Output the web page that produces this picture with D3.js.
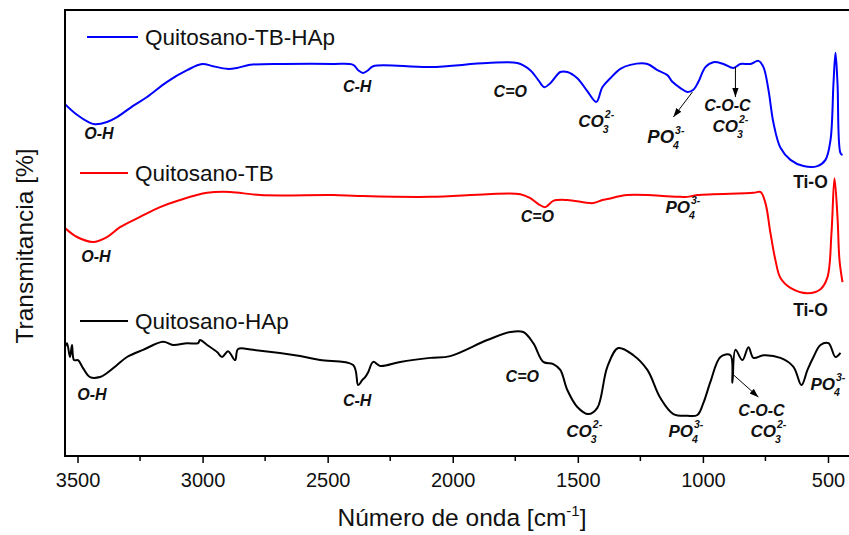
<!DOCTYPE html>
<meta charset="utf-8">
<style>
body { margin: 0; background: #fff; }
svg { display: block; font-family: "Liberation Sans", Arial, sans-serif; }
.lbl { font-weight: bold; font-style: italic; font-size: 16px; fill: #111; }
.leg text { font-size: 22.5px; fill: #111; }
.axis text { font-size: 20px; fill: #111; }
</style>
<svg width="849" height="535"></svg>
<script src="https://d3js.org/d3.v7.min.js"></script>
<script>

// FTIR spectra, [wavenumber cm-1, transmittance (arbitrary, offset)]
var tbHap = [[3550,78.9],[3502,76.5],[3450,74.7],[3430,74.4],[3382,74.9],[3342,76.0],[3278,78.5],[3222,80.5],
  [3142,83.9],[3062,86.5],[3002,87.9],[2958,87.4],[2902,86.8],[2862,87.0],[2810,87.7],[2678,87.9],[2478,87.9],
  [2398,87.7],[2378,86.5],[2358,85.9],[2338,86.5],[2318,87.4],[2090,87.2],[1862,88.1],[1742,88.1],[1690,86.5],
  [1658,84.3],[1634,82.7],[1610,83.6],[1570,86.1],[1542,86.1],[1502,84.7],[1462,81.8],[1426,79.4],[1402,82.7],
  [1370,84.7],[1330,86.8],[1290,87.7],[1222,87.9],[1182,86.5],[1142,85.4],[1122,83.9],[1090,82.5],[1062,81.6],
  [1038,82.1],[1018,83.9],[990,87.2],[958,88.3],[918,87.9],[878,87.0],[850,87.9],[810,87.9],[778,88.6],[758,87.2],
  [738,82.1],[718,74.7],[690,69.1],[650,66.4],[598,65.0],[542,65.0],[510,66.4],[490,70.8],[478,83.6],[470,90.4],
  [462,83.6],[450,67.9],[442,67.5]];

var tb = [[3550,51.1],[3502,49.1],[3438,48.0],[3382,49.1],[3330,51.3],[3250,53.6],[3170,55.8],[3090,57.4],
  [2982,59.0],[2890,59.2],[2770,58.5],[2478,58.5],[2378,58.3],[2090,58.1],[1862,58.7],[1730,58.7],[1690,57.8],
  [1658,56.5],[1630,55.8],[1598,57.2],[1542,57.4],[1438,56.7],[1402,57.4],[1382,57.6],[1302,58.5],[1090,58.1],
  [1062,58.1],[1022,58.5],[798,59.0],[770,59.2],[750,56.7],[730,50.0],[710,43.9],[690,39.9],[650,37.7],
  [582,36.5],[530,37.4],[502,40.1],[486,50.0],[474,62.3],[462,53.6],[454,43.9],[442,39.0]];

var hap = [[3550,24.4],[3542,25.3],[3530,22.2],[3522,24.9],[3514,21.5],[3498,21.5],[3478,19.7],[3450,17.7],
  [3410,17.7],[3382,18.6],[3342,20.4],[3302,22.2],[3238,23.8],[3158,25.6],[3118,24.9],[3062,25.3],[3018,25.3],
  [3010,26.0],[2982,24.9],[2942,23.3],[2922,22.2],[2898,23.5],[2870,21.5],[2858,24.0],[2798,23.8],[2610,22.4],
  [2530,21.5],[2398,20.4],[2378,15.9],[2362,17.0],[2350,17.7],[2338,18.8],[2318,21.1],[2290,20.2],[2210,21.1],
  [2090,22.0],[2010,22.4],[1862,26.0],[1770,27.8],[1718,27.8],[1678,25.3],[1638,21.1],[1598,20.6],[1570,19.3],
  [1542,14.8],[1502,11.0],[1458,9.4],[1422,10.8],[1382,20.0],[1338,24.2],[1278,22.6],[1222,19.3],[1170,13.0],
  [1118,9.4],[1062,9.0],[1022,9.2],[998,11.9],[970,16.6],[930,22.2],[890,22.6],[882,16.4],[870,23.8],[842,21.5],
  [818,24.4],[798,22.0],[758,22.6],[690,22.0],[638,20.0],[606,15.9],[582,19.3],[558,22.2],[530,24.9],[498,25.3],
  [470,22.2],[450,23.1]];

var seriesNames = ["Quitosano-TB-HAp", "Quitosano-TB", "Quitosano-HAp"];
var seriesColors = ["#0000ff", "#ff0000", "#000000"];
var majorTicks = [3500, 3000, 2500, 2000, 1500, 1000, 500];
var minorTicks = [3250, 2750, 2250, 1750, 1250, 750];

// band labels: [text, wavenumber, value, anchor, ion sup, ion sub, size]
var bandLabels = [
  ["O-H", 3414, 71.1, "middle"], ["C-H", 2382, 81.6, "middle"], ["C=O", 1770, 80.5, "middle"],
  ["CO", 1498, 73.8, "start", "2-", "3", 17], ["PO", 1222, 70.2, "start", "3-", "4", 18.5],
  ["C-O-C", 902, 77.3, "middle"], ["CO", 962, 72.6, "start", "2-", "3", 17],
  ["O-H", 3426, 43.5, "middle"], ["C=O", 1662, 52.5, "middle"], ["PO", 1150, 54.5, "start", "3-", "4", 17],
  ["O-H", 3442, 12.6, "middle"], ["C-H", 2382, 11.2, "middle"], ["C=O", 1722, 16.6, "middle"],
  ["CO", 1546, 4.3, "start", "2-", "3", 17], ["PO", 1138, 4.3, "start", "3-", "4", 17],
  ["C-O-C", 766, 9.0, "middle"], ["CO", 810, 4.3, "start", "2-", "3", 17], ["PO", 570, 14.8, "start", "3-", "4", 17]
];
var tiLabels = [[570, 60.1], [570, 31.4]];
var arrows = [[1042, 81.6, 1118, 76.0], [870, 87.2, 870, 80.5], [878, 18.2, 778, 13.2]];

var svg = d3.select("svg"),
    mLeft = 65, mRight = 853, mTop = 10, mBottom = 456;

var x = d3.scaleLinear().domain([3550, 400]).range([mLeft, mRight]);
var y = d3.scaleLinear().domain([0, 100]).range([mBottom, mTop]);

var defs = svg.append("defs");
defs.append("clipPath").attr("id", "clip")
  .append("rect").attr("x", mLeft).attr("y", mTop).attr("width", mRight - mLeft).attr("height", mBottom - mTop);
defs.append("marker").attr("id", "arr").attr("viewBox", "0 0 10 10").attr("refX", 10).attr("refY", 5)
  .attr("markerWidth", 9).attr("markerHeight", 9).attr("orient", "auto")
  .append("path").attr("d", "M0,1.5L10,5L0,8.5z").attr("fill", "#000");

var line = d3.line().x(function(d) { return x(d[0]); }).y(function(d) { return y(d[1]); })
  .curve(d3.curveCatmullRom.alpha(0.5));

var plot = svg.append("g").attr("clip-path", "url(#clip)");
[tbHap, tb, hap].forEach(function(s, i) {
  plot.append("path").datum(s)
    .attr("d", line)
    .attr("fill", "none")
    .attr("stroke", seriesColors[i])
    .attr("stroke-width", 2)
    .attr("stroke-linejoin", "round");
});

// axes
var xAxis = svg.append("g").attr("class", "axis").attr("transform", "translate(0," + mBottom + ")")
  .call(d3.axisBottom(x).tickValues(majorTicks).tickSize(7).tickPadding(10).tickFormat(d3.format("d")));
xAxis.select(".domain").remove();
xAxis.selectAll(".tick line").attr("stroke-width", 1.5);
svg.append("g").selectAll("line").data(minorTicks).enter().append("line")
  .attr("x1", x).attr("x2", x).attr("y1", mBottom).attr("y2", mBottom + 5)
  .attr("stroke", "#000").attr("stroke-width", 1.5);

svg.append("rect").attr("x", mLeft).attr("y", mTop).attr("width", mRight - mLeft).attr("height", mBottom - mTop)
  .attr("fill", "none").attr("stroke", "#000").attr("stroke-width", 2);

var xt = svg.append("text").attr("x", 462).attr("y", 526).attr("text-anchor", "middle")
  .style("font-size", "24.5px").attr("fill", "#111");
xt.append("tspan").text("Número de onda [cm");
xt.append("tspan").attr("dy", -10).style("font-size", "15px").text("-1");
xt.append("tspan").attr("dy", 10).text("]");

svg.append("text").attr("transform", "translate(33,246) rotate(-90)").attr("text-anchor", "middle")
  .style("font-size", "24.5px").attr("fill", "#111").text("Transmitancia [%]");

// legend
var legPos = [[87, 138, 37], [80, 128, 173], [80, 128, 321]];
var leg = svg.append("g").attr("class", "leg");
seriesNames.forEach(function(n, i) {
  var p = legPos[i];
  leg.append("line").attr("x1", p[0]).attr("x2", p[1]).attr("y1", p[2]).attr("y2", p[2])
    .attr("stroke", seriesColors[i]).attr("stroke-width", 2);
  leg.append("text").attr("x", p[1] + 7).attr("y", p[2] + 8).text(n);
});

// band labels
bandLabels.forEach(function(b) {
  var t = svg.append("text").attr("class", "lbl")
    .attr("x", x(b[1])).attr("y", y(b[2])).attr("text-anchor", b[3]).text(b[0]);
  if (b[4]) {
    t.style("font-size", b[6] + "px");
    var w = t.node().getComputedTextLength();
    var sx = x(b[1]) + w + 1;
    svg.append("text").attr("class", "lbl").style("font-size", "10.5px")
      .attr("x", sx).attr("y", y(b[2]) - 9).text(b[4]);
    svg.append("text").attr("class", "lbl").style("font-size", "10.5px")
      .attr("x", sx - 2).attr("y", y(b[2]) + 6).text(b[5]);
  }
});
tiLabels.forEach(function(t) {
  svg.append("text").attr("x", x(t[0])).attr("y", y(t[1])).attr("text-anchor", "middle")
    .style("font-weight", "bold").style("font-size", "17.5px").attr("fill", "#111").text("Ti-O");
});

arrows.forEach(function(a) {
  svg.append("line").attr("x1", x(a[0])).attr("y1", y(a[1])).attr("x2", x(a[2])).attr("y2", y(a[3]))
    .attr("stroke", "#000").attr("stroke-width", 1).attr("marker-end", "url(#arr)");
});

</script>
